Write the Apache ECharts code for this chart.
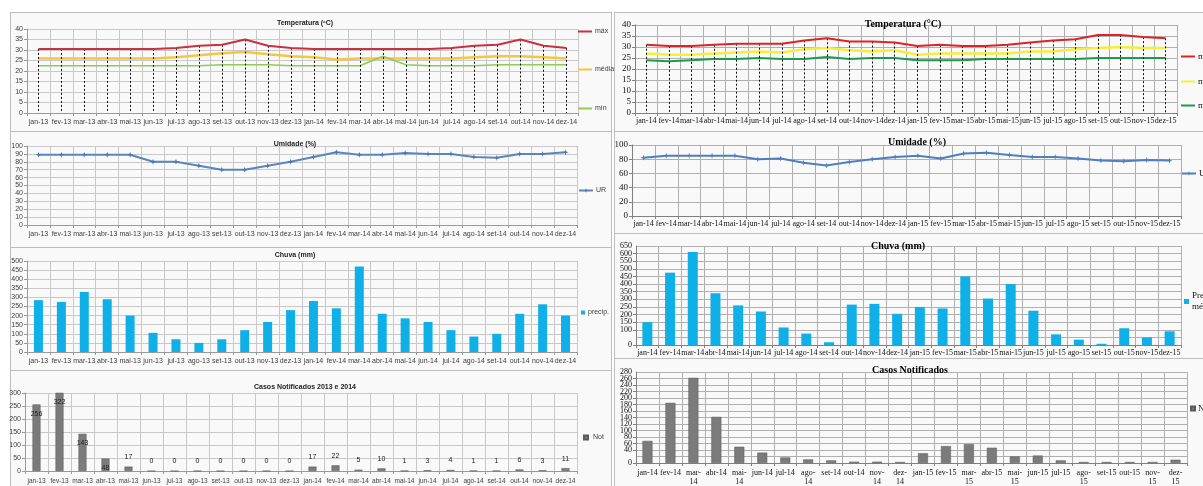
<!DOCTYPE html>
<html><head><meta charset="utf-8">
<script src="https://cdn.jsdelivr.net/npm/echarts@6/dist/echarts.min.js"></script>
<style>
html,body{margin:0;padding:0;background:#fff;width:1203px;height:486px;overflow:hidden}
.f{position:absolute;border:1px solid #bdbdbd;background:#f9f9f9;box-sizing:border-box}
#c{position:absolute;left:0;top:0;width:1203px;height:486px}
</style></head>
<body>
<div class="f" style="left:10px;top:12px;width:602px;height:120px"></div>
<div class="f" style="left:10px;top:131px;width:602px;height:117px"></div>
<div class="f" style="left:10px;top:247px;width:602px;height:124px"></div>
<div class="f" style="left:10px;top:370px;width:602px;height:130px"></div>
<div class="f" style="left:614px;top:12px;width:600px;height:120px"></div>
<div class="f" style="left:614px;top:131px;width:600px;height:103px"></div>
<div class="f" style="left:614px;top:233px;width:600px;height:126px"></div>
<div class="f" style="left:614px;top:358px;width:600px;height:140px"></div>
<div id="c"></div>
<script>
// ---------- DATA ----------
const cats1 = ['jan-13','fev-13','mar-13','abr-13','mai-13','jun-13','jul-13','ago-13','set-13','out-13','nov-13','dez-13',
               'jan-14','fev-14','mar-14','abr-14','mai-14','jun-14','jul-14','ago-14','set-14','out-14','nov-14','dez-14'];
const cats2 = ['jan-14','fev-14','mar-14','abr-14','mai-14','jun-14','jul-14','ago-14','set-14','out-14','nov-14','dez-14',
               'jan-15','fev-15','mar-15','abr-15','mai-15','jun-15','jul-15','ago-15','set-15','out-15','nov-15','dez-15'];
const cats2Wrapped = ['jan-14','fev-14','mar-\n14','abr-14','mai-\n14','jun-14','jul-14','ago-\n14','set-14','out-14','nov-\n14','dez-\n14',
               'jan-15','fev-15','mar-\n15','abr-15','mai-\n15','jun-15','jul-15','ago-\n15','set-15','out-15','nov-\n15','dez-\n15'];

// 2013-2014 panel
const tMax1 = [30.5,30.5,30.5,30.5,30.5,30.5,31,32,32.5,35,32,31, 30.5,30.5,30.5,30.5,30.5,30.5,31,32,32.5,35,32,31];
const tMed1 = [26,26,26,26,26,26,26.5,27.5,28.5,29,28,27, 26.5,25.5,26,26,26,26,26,26.5,27,27,26.5,26];
const tMin1 = [22.5,22.5,22.5,22.5,22.5,22.5,22.5,22.5,23,23,23,22.5, 22.5,22.5,22.5,27,23,22.5,22.5,22.5,23,23,23,23];
const ur1   = [89,89,89,89,89,80,80,75,70,70,75,80, 86,92,89,89,91,90,90,86,85,90,90,92];
const rain1 = [285,275,330,290,200,105,70,50,70,120,165,230, 280,240,470,210,185,165,120,85,100,210,262,200];
const cases1= [256,322,143,48,17,0,0,0,0,0,0,0, 17,22,5,10,1,3,4,1,1,6,3,11];

// 2014-2015 panel
const tMax2 = [31,30.5,30.5,31,31.5,31.5,31.5,33,34,32.5,32.5,32, 30.5,31,30.5,30.5,31,32,33,33.5,35.5,35.5,34.5,34];
const tMed2 = [27,26.5,26.5,27,27.5,28,27.5,29,29.5,28.5,28,28.5, 26.5,27,27,27,27,28,28,29,29.5,30,29.5,29.5];
const tMin2 = [24,23.5,24,24.5,24.5,25,24.5,24.5,25.5,24.5,25,25, 24,24,24,24.5,24.5,24.5,24.5,24.5,25,25,25,25];
const ur2   = [82,85,85,85,85,80,81,75,71,76,80,83, 85,81,88,89,86,83,83,81,78,77,79,78];
const rain2 = [150,475,610,340,260,220,115,75,18,265,270,205, 250,240,450,305,400,225,70,35,8,110,50,90];
const cases2= [68,185,262,142,50,32,17,11,8,4,4,3, 30,52,58,47,20,23,8,3,3,3,3,10];

// ---------- STYLE ----------
const SANS = '"Liberation Sans", Arial, sans-serif';
const SERIF = '"Liberation Serif", "Times New Roman", serif';

const grids = [
  {left:27, top:29,  width:551, height:84},
  {left:27, top:146, width:550, height:79},
  {left:27, top:261, width:550, height:91},
  {left:25, top:393, width:552, height:79},
  {left:635, top:25,  width:542, height:88},
  {left:632, top:145, width:549, height:71},
  {left:636, top:246, width:545, height:99},
  {left:636, top:372, width:551, height:91}
];

function xAx(i, data, left, fs, margin){
  const s = left;
  return {
    type:'category', gridIndex:i, data:data, boundaryGap:true,
    axisLine:{show:true, lineStyle:{color: s?'#9a9a9a':'#808080'}},
    axisTick:{show:true, length:3, interval:0, lineStyle:{color: s?'#9a9a9a':'#808080'}},
    splitLine:{show:true, interval:0, lineStyle:{color: s?'#c9c9c9':'#b0b0b0', width:1}},
    axisLabel:{interval:0, fontFamily: s?SANS:SERIF, fontSize: fs || (s?7:8), color: s?'#404040':'#111',
               margin: margin || (s?5:3), lineHeight: 9, hideOverlap:false}
  };
}
function yAx(i, max, step, left, fs, noMax){
  const s = left;
  const f = fs || (s?7:9);
  const lab = {fontFamily: s?SANS:SERIF, fontSize: f, color: s?'#404040':'#111', margin:4,
               showMinLabel:true, showMaxLabel: noMax ? false : true, hideOverlap:false};
  return {
    type:'value', gridIndex:i, min:0, max:max, interval:step, position:'left',
    axisLine:{show:true, lineStyle:{color: s?'#9a9a9a':'#808080'}},
    axisTick:{show:true, length:3, lineStyle:{color: s?'#9a9a9a':'#808080'}},
    splitLine:{show:true, lineStyle:{color: s?'#c9c9c9':'#b0b0b0', width:1}},
    axisLabel: lab
  };
}
// companion axis that only carries the top tick label (avoids automatic neighbour hiding)
function yTopOnly(i, max, step, fs){
  return {
    type:'value', gridIndex:i, min:0, max:max, interval:step, position:'left', offset:0,
    axisLine:{show:false}, axisTick:{show:false}, splitLine:{show:false},
    axisLabel:{fontFamily:SERIF, fontSize:fs, color:'#111', margin:4, showMaxLabel:true, showMinLabel:false,
               formatter: v => (v === max ? String(v) : '')}
  };
}

function dropLines(cats, vals){
  return {
    symbol:'none', silent:true, animation:false,
    lineStyle:{type:[2,2], color:'#111', width:1},
    label:{show:false}, emphasis:{disabled:true},
    data: vals.map((v,i)=>[{coord:[cats[i], v]},{coord:[cats[i], 0]}])
  };
}

const starPath = 'path://M0,-5L1.2,-1.2L5,0L1.2,1.2L0,5L-1.2,1.2L-5,0L-1.2,-1.2Z';

function title(text, x, y, left){
  return {text:text, left:x, top:y, textAlign:'center',
    textStyle:{fontFamily: left?SANS:SERIF, fontSize: left?7:10, fontWeight:'bold', color: left?'#222':'#000'}};
}
function leg(name, x, y, left, icon, extra){
  const isRect = icon==='square';
  const isLine = icon==='line';
  return Object.assign({
    data:[name], left:x, top:y, orient:'vertical', padding:0, selectedMode:false,
    itemWidth: isRect?4:14, itemHeight: isRect?4:(isLine?2:6), itemGap:0,
    icon: (isRect||isLine)?'rect':undefined,
    textStyle:{fontFamily: left?SANS:SERIF, fontSize: left?7:9, color: left?'#404040':'#111', padding:[0,0,0,-2]}
  }, extra||{});
}

const option = {
  animation:false,
  backgroundColor:'transparent',
  title:[
    title('Temperatura (ºC)', 300, 15, true),
    title('Umidade (%)', 290, 136, true),
    title('Chuva (mm)', 290, 247, true),
    title('Casos Notificados 2013 e 2014', 300, 379, true),
    title('Temperatura (°C)', 898, 14, false),
    title('Umidade (%)', 912, 132, false),
    title('Chuva (mm)', 893, 236, false),
    title('Casos Notificados', 905, 360, false)
  ],
  legend:[
    leg('máx', 578, 28, true, 'line'),
    leg('média', 578, 66, true, 'line'),
    leg('mín', 578, 105, true, 'line'),
    leg('UR', 578, 187, true),
    leg('precip.', 581, 309, true, 'square'),
    leg('Notificados', 583, 434, true, 'square', {textStyle:{fontFamily:SANS,fontSize:7,color:'#404040',width:12,overflow:'truncate',ellipsis:''}}),
    leg('máxima', 1181, 52, false, 'line'),
    leg('média mensal', 1181, 77, false, 'line'),
    leg('mínima', 1181, 101, false, 'line'),
    leg('UR (%)', 1181, 169, false),
    leg('Precipitação média', 1184, 285, false, 'square', {itemWidth:5,itemHeight:5, formatter:'Precipitação\nmédia', textStyle:{fontFamily:SERIF,fontSize:9,color:'#111',lineHeight:11, padding:[11,0,0,-2]}}),
    leg('Notificados ', 1190, 404, false, 'square')
  ],
  grid: grids,
  xAxis:[
    xAx(0, cats1, true), xAx(1, cats1, true), xAx(2, cats1, true), xAx(3, cats1, true, 6.5, 6),
    xAx(4, cats2, false), xAx(5, cats2, false), xAx(6, cats2, false),
    Object.assign(xAx(7, cats2, false), {axisLabel:{interval:0, fontFamily:SERIF, fontSize:8, color:'#111', margin:5, lineHeight:9,
      formatter:(v,i)=>cats2Wrapped[i]}})
  ],
  yAxis:[
    yAx(0, 40, 5, true), yAx(1, 100, 10, true, 7), yAx(2, 500, 50, true, 7), yAx(3, 300, 50, true),
    yAx(4, 40, 5, false), yAx(5, 100, 20, false), yAx(6, 650, 50, false, 8, true), yAx(7, 280, 20, false, 8, true),
    yTopOnly(6, 650, 50, 8), yTopOnly(7, 280, 20, 8)
  ],
  series:[
    {name:'máx', type:'line', xAxisIndex:0, yAxisIndex:0, data:tMax1, symbol:'none', color:'#c8323e',
     lineStyle:{width:2, color:'#c8323e'}, z:5, markLine: dropLines(cats1, tMax1)},
    {name:'média', type:'line', xAxisIndex:0, yAxisIndex:0, data:tMed1, symbol:'none', color:'#f2c744',
     lineStyle:{width:2.5, color:'#f2c744'}, z:4},
    {name:'mín', type:'line', xAxisIndex:0, yAxisIndex:0, data:tMin1, symbol:'none', color:'#8fcc55',
     lineStyle:{width:1.5, color:'#8fcc55'}, z:4},
    {name:'UR', type:'line', xAxisIndex:1, yAxisIndex:1, data:ur1, symbol:starPath, symbolSize:6, color:'#5b86bd',
     lineStyle:{width:2, color:'#5b86bd'}, itemStyle:{color:'#4a76ad'}},
    {name:'precip.', type:'bar', xAxisIndex:2, yAxisIndex:2, data:rain1, barWidth:9, color:'#0fb0e8',
     itemStyle:{color:'#0fb0e8'}},
    {name:'Notificados', type:'bar', xAxisIndex:3, yAxisIndex:3, barWidth:8, color:'#7b7b7b',
     itemStyle:{color:'#7b7b7b', borderColor:'#5a5a5a', borderWidth:0.5},
     data: cases1.map(v=>({value:v, label:{position: v>=40?'insideTop':'top'}})),
     label:{show:true, fontFamily:SANS, fontSize:7, color:'#222', distance:6}},
    {name:'máxima', type:'line', xAxisIndex:4, yAxisIndex:4, data:tMax2, symbol:'none', color:'#dc2424',
     lineStyle:{width:2, color:'#dc2424'}, z:5, markLine: dropLines(cats2, tMax2)},
    {name:'média mensal', type:'line', xAxisIndex:4, yAxisIndex:4, data:tMed2, symbol:'none', color:'#f4f03a',
     lineStyle:{width:2.5, color:'#f4f03a'}, z:4},
    {name:'mínima', type:'line', xAxisIndex:4, yAxisIndex:4, data:tMin2, symbol:'none', color:'#1e9a4c',
     lineStyle:{width:2, color:'#1e9a4c'}, z:4},
    {name:'UR (%)', type:'line', xAxisIndex:5, yAxisIndex:5, data:ur2, symbol:starPath, symbolSize:6, color:'#4f7fbf',
     lineStyle:{width:2, color:'#4f7fbf'}, itemStyle:{color:'#4f7fbf'}},
    {name:'Precipitação média', type:'bar', xAxisIndex:6, yAxisIndex:6, data:rain2, barWidth:10, color:'#0fb0e8',
     itemStyle:{color:'#0fb0e8'}},
    {name:'Notificados ', type:'bar', xAxisIndex:7, yAxisIndex:7, data:cases2, barWidth:10, color:'#7b7b7b',
     itemStyle:{color:'#7b7b7b', borderColor:'#5a5a5a', borderWidth:0.5}}
  ]
};
const chart = echarts.init(document.getElementById('c'), null, {renderer:'canvas'});
chart.setOption(option);
</script>
</body></html>
